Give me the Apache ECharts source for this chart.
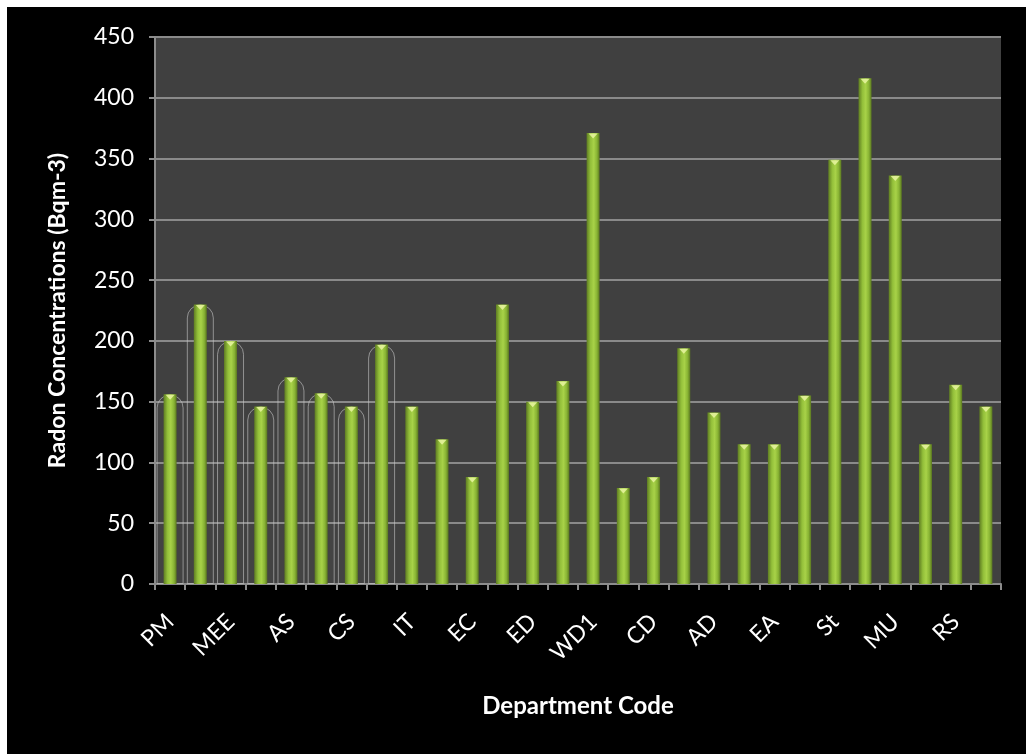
<!DOCTYPE html>
<html>
<head>
<meta charset="utf-8">
<script src="https://cdn.jsdelivr.net/npm/echarts@6/dist/echarts.min.js"></script>
<style>
html,body{margin:0;padding:0;background:#ffffff;}
#chart{position:absolute;left:7px;top:7px;width:1019px;height:747px;background:#000;}
</style>
</head>
<body>
<div id="chart"></div>
<script>
// Department codes (only every other one is labelled in the original)
const categories = ["PM","","MEE","","AS","","CS","","IT","","EC","","ED","","WD1","","CD","","AD","","EA","","St","","MU","","RS",""];
const radonValues = [156,230,200,146,170,157,146,197,146,119,88,230,150,167,371,79,88,194,141,115,115,155,349,416,336,115,164,146];
// first eight bars carry a glass outline in the original
const outlinedCount = 8;
const yTicks = {min:0, max:450, interval:50};

const outlineData = radonValues.map((v,i)=> i < outlinedCount ? v : null);

const chart = echarts.init(document.getElementById('chart'));
const font = 'Lato, "Open Sans", sans-serif';
chart.setOption({
  backgroundColor:'#000',
  animation:false,
  grid:{left:148,right:25,top:30,bottom:170,show:true,backgroundColor:'#404040',borderWidth:0},
  xAxis:[{
    type:'category', data:categories, boundaryGap:true,
    name:'Department Code', nameLocation:'middle', nameGap:110,
    nameTextStyle:{color:'#fff',fontSize:24,fontWeight:'bold',fontFamily:font},
    axisLine:{lineStyle:{color:'#8c8c8c',width:2}},
    axisTick:{show:true,length:6,lineStyle:{color:'#8c8c8c',width:2},alignWithLabel:false,interval:0},
    axisLabel:{interval:0,rotate:45,color:'#fff',fontSize:23,fontFamily:font,margin:34},
    splitLine:{show:false}
  },{
    type:'category', data:categories, show:false, boundaryGap:true
  }],
  yAxis:{
    type:'value', min:yTicks.min, max:yTicks.max, interval:yTicks.interval,
    name:'Radon Concentrations (Bqm-3)', nameLocation:'middle', nameGap:86,
    nameTextStyle:{color:'#fff',fontSize:23,fontWeight:'bold',fontFamily:font},
    axisLine:{show:true,lineStyle:{color:'#8c8c8c',width:2}},
    axisTick:{show:true,length:6,lineStyle:{color:'#8c8c8c',width:2}},
    axisLabel:{color:'#fff',fontSize:23,fontFamily:font,margin:21},
    splitLine:{lineStyle:{color:'#8a8a8a',width:2}}
  },
  series:[{
    type:'bar', xAxisIndex:1, data:outlineData, barWidth:27, silent:true,
    itemStyle:{color:'rgba(255,255,255,0.02)',borderColor:'rgba(200,200,200,0.6)',borderWidth:1,borderRadius:[13,13,0,0]},
    z:1
  },{
    type:'bar', data:radonValues, barWidth:13,
    itemStyle:{
      color:new echarts.graphic.LinearGradient(0,0,1,0,[
        {offset:0,color:'#5f7d22'},
        {offset:0.3,color:'#93bf3a'},
        {offset:0.55,color:'#a8d248'},
        {offset:0.8,color:'#88b334'},
        {offset:1,color:'#5a7620'}
      ])
    },
    z:3
  },{
    type:'scatter', data:radonValues, symbol:'triangle', symbolRotate:180,
    symbolSize:[9,5], symbolOffset:[0,3], silent:true,
    itemStyle:{color:'#eef7a8'}, z:4
  }]
});
</script>
</body>
</html>
